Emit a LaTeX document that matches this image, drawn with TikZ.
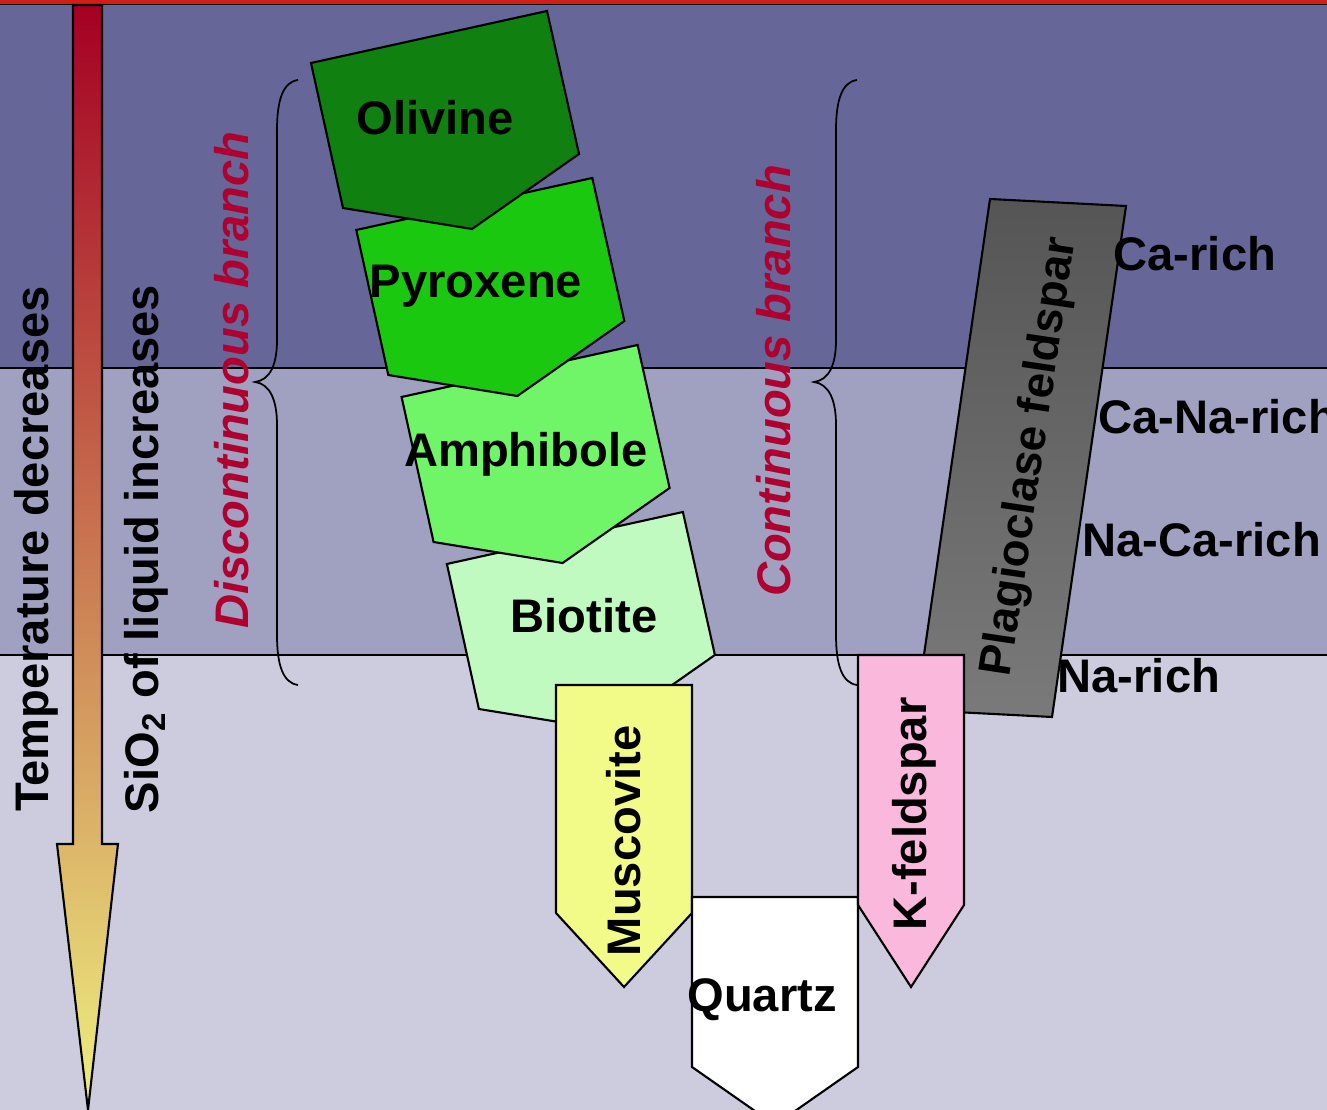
\documentclass[tikz,border=0pt]{standalone}
\usepackage{fontspec}
\setmainfont{Liberation Sans}
\usetikzlibrary{positioning}
\definecolor{topband}{RGB}{102,102,153}
\definecolor{midband}{RGB}{160,160,192}
\definecolor{lowband}{RGB}{204,204,222}
\definecolor{topred}{RGB}{210,30,20}
\definecolor{arrowtop}{RGB}{165,0,35}
\definecolor{arrowmid}{RGB}{205,130,85}
\definecolor{arrowbot}{RGB}{238,240,128}
\definecolor{branchred}{RGB}{176,0,48}
\definecolor{olivine}{RGB}{16,128,16}
\definecolor{pyroxene}{RGB}{26,200,16}
\definecolor{amphibole}{RGB}{112,245,104}
\definecolor{biotite}{RGB}{192,250,192}
\definecolor{muscovite}{RGB}{242,250,136}
\definecolor{kfeldspar}{RGB}{250,185,220}
\definecolor{plagtop}{RGB}{85,85,85}
\definecolor{plagbot}{RGB}{122,122,122}
\begin{document}
\begin{tikzpicture}[x=0.01cm,y=-0.01cm,
 mineral/.style={draw,line width=0.6pt},
 band/.style={draw,line width=0.5pt},
 lab/.style={font=\fontsize{13.4}{16}\selectfont\bfseries,inner sep=0pt,anchor=base},
 vlab/.style={lab,rotate=90},
 branch/.style={vlab,text=branchred,font=\fontsize{13.4}{16}\selectfont\bfseries\itshape},
 side/.style={lab,anchor=base west}]
\useasboundingbox (0,0) rectangle (1327,1110);
\clip (0,0) rectangle (1327,1110);
% bands
\fill[topband] (0,4) rectangle (1327,368);
\fill[midband] (0,368) rectangle (1327,655);
\fill[lowband] (0,655) rectangle (1327,1110);
\fill[topred] (0,0) rectangle (1327,4);
\draw[band] (0,4.5) -- (1327,4.5);
\draw[band] (0,368) -- (1327,368);
\draw[band] (0,655) -- (1327,655);
% temperature arrow
\shadedraw[mineral,top color=arrowtop,middle color=arrowmid,bottom color=arrowbot]
 (73,5) -- (102,5) -- (102,844) -- (118,844) -- (88,1110) -- (57,844) -- (73,844) -- cycle;
\node[vlab] (temp) at (48,549) {Temperature decreases};
\node[vlab] (sio) at (158,549) {SiO\textsubscript{2} of liquid increases};
% braces
\foreach \bx in {277,836}
 \draw[line width=0.5pt] (\bx+21,80) .. controls (\bx+6,82) and (\bx,100) .. (\bx,130) -- (\bx,340)
  .. controls (\bx,365) and (\bx-7,380) .. (\bx-22,382) .. controls (\bx-7,384) and (\bx,400) .. (\bx,425)
  -- (\bx,635) .. controls (\bx,665) and (\bx+6,683) .. (\bx+21,685);
\node[branch] (disc) at (248,380) {Discontinuous branch};
\node[branch] (cont) at (790,381) {Continuous branch};
% discontinuous series
\foreach \k/\col in {3/biotite,2/amphibole,1/pyroxene,0/olivine}
 \draw[mineral,fill=\col,shift={(45.3*\k,167*\k)}]
  (311,63) -- (547,11) -- (579,154) -- (472,229) -- (343,208) -- cycle;
\node[lab] (oli) at (435,135) {Olivine};
\node[lab] (pyr) at (476,298) {Pyroxene};
\node[lab] (amp) at (526,467) {Amphibole};
\node[lab] (bio) at (584,633) {Biotite};
% plagioclase
\shadedraw[mineral,top color=plagtop,bottom color=plagbot]
 (990,199) -- (1126,206) -- (1052,717) -- (916,710) -- cycle;
\node[lab,anchor=center,rotate=81.5,font=\fontsize{13}{16}\selectfont\bfseries] (plag) at (1031,457) {Plagioclase feldspar};
% late minerals
\draw[mineral,fill=muscovite] (556,685) -- (692,685) -- (692,913) -- (624,987) -- (556,913) -- cycle;
\draw[mineral,fill=white] (692,897) -- (858,897) -- (858,1067) -- (775,1125) -- (692,1067) -- cycle;
\draw[mineral,fill=kfeldspar] (858,655) -- (964,655) -- (964,905) -- (911,987) -- (858,905) -- cycle;
\node[vlab] (musc) at (640,841) {Muscovite};
\node[lab] (qtz) at (762,1011) {Quartz};
\node[vlab] (kfs) at (926,814) {K-feldspar};
% plagioclase composition
\node[side] (ca) at (1113,271) {Ca-rich};
\node[side] (cana) at (1098,434) {Ca-Na-rich};
\node[side] (naca) at (1082,557) {Na-Ca-rich};
\node[side] (na) at (1057,693) {Na-rich};
\end{tikzpicture}
\end{document}
